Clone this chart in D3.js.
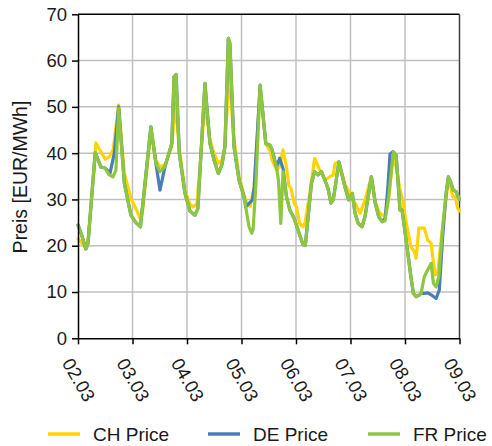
<!DOCTYPE html>
<html><head><meta charset="utf-8">
<script src="https://cdn.jsdelivr.net/npm/d3@7"></script>
<style>
body{margin:0;background:#fff;}
svg{display:block;font-family:"Liberation Sans",Arial,sans-serif;}
</style></head>
<body><svg id="c" width="492" height="446"></svg>
<script>
// hours since 02.03 00:00 , price EUR/MWh
const chPrice = [[0,21.5],[1.8,20.5],[3.5,19.5],[4.4,21],[7.9,42.2],[10.1,40.3],[12,38.7],[13.8,39.2],[15.5,40.8],[17.9,50.4],[20.4,35.6],[23.3,30.2],[25.5,28],[27.3,26],[28.6,28],[32.1,45],[34.3,38.5],[36.1,37],[38.3,37.5],[41.3,41.5],[42.8,50.8],[44.6,41],[47.1,32],[49.3,29],[50.6,28.4],[52.4,29],[55.9,51],[58.1,42.8],[59.9,40],[61.8,37.8],[63.4,38.5],[64.7,41.5],[66.5,57.2],[68.7,43],[70.9,35],[73.1,31],[74.6,28.8],[75.8,28.5],[77.6,32.7],[80.2,54],[82.7,42],[84.6,40.5],[85.5,38.5],[87.4,36.5],[88.8,37],[90.3,40.7],[91.8,37],[92.8,33.1],[93.8,32.4],[95.2,29.2],[96.2,28.4],[97.6,24.8],[99.1,24.1],[100,25],[102.1,31.3],[104.2,38.9],[106.4,36.4],[108.7,34.2],[110.6,34.8],[112.4,35.3],[113.2,37.8],[114.9,38],[117.7,33.1],[119.7,31.3],[122,29.2],[124.2,27],[126.4,29.9],[129.2,34.9],[130.9,29.5],[132.4,27.5],[133.9,26.6],[135.2,26.6],[136.8,30],[138.7,39.5],[140.1,37],[141.8,32],[143,29.9],[144.5,25],[146.6,19.8],[148.1,18.7],[148.9,17.3],[150.1,23.8],[152.5,23.8],[154,21.2],[155.5,20.5],[156.2,17.6],[157.3,13.7],[158.4,14],[159.9,21.2],[161.3,27],[162.8,33.1],[163.5,34.2],[165,30.6],[166.1,30.6],[167.2,28.1],[168,27.5]];

const dePrice = [[0,24.5],[1.5,22.5],[3.5,19.3],[4.4,20.5],[7.6,40.1],[10.1,37],[11.9,36.8],[14.1,35.7],[16,40],[17.9,50],[20.4,33.5],[23.3,26.6],[25.5,25],[27.5,24.1],[32.1,45.7],[34.3,37.8],[36.1,32],[38.3,37.1],[41.3,42.1],[42.3,56.5],[43.2,57],[44.6,40],[47.1,31.3],[49.3,27.5],[51.5,26.6],[52.8,28],[55.9,55.1],[58.1,42.1],[59.9,38.5],[61.8,35.6],[63.4,37.5],[64.7,41.4],[66.2,64.8],[66.9,63.7],[68.7,41.4],[70.9,34.2],[73.1,30.6],[73.9,28.4],[76.8,29.9],[77.6,32.7],[80.2,54.7],[82.7,42.1],[84.6,41.7],[85.5,40.7],[87.4,37],[88.8,38.9],[90.3,36.7],[91.8,30.6],[93.3,27.7],[95.2,25.9],[96.9,23.4],[99.1,20.2],[100.1,20.1],[102.8,33.5],[104.2,36],[105.7,35.3],[107.2,36],[108.7,34.2],[110.1,32.4],[111.4,29.2],[112.4,29.9],[114.9,38.1],[117.7,32.4],[119.2,29.9],[120.8,31.3],[122,27],[123.4,24.8],[125.1,24.1],[126.4,26.3],[129.2,34.9],[130.9,29.2],[132.4,26.3],[133.9,25.2],[135.3,26],[136.5,33],[137.4,39.8],[138.7,40.3],[140.1,39.6],[141.8,27.7],[142.7,27.7],[144.5,21.2],[146.6,13.3],[147.7,9.7],[148.9,9],[150.4,9.4],[151.1,9.7],[152.5,9.7],[154,9.8],[155.5,9.4],[157.7,8.6],[159.1,10.4],[160.6,22],[162.1,31.3],[163.1,34.9],[164.3,33.5],[165.3,32],[166.5,31.7],[168,30]];

const frPrice = [[0,24.5],[1.5,22.5],[3.5,19.3],[4.4,20.5],[7.6,40.1],[10.1,37],[11.9,36.8],[13.7,35.3],[15.4,34.9],[16.7,36.3],[17.9,49.7],[20.4,33.5],[23.3,26.6],[25.5,25],[27.5,24.1],[32.1,45.7],[34.3,37.8],[36.1,36],[38.3,37.1],[41.3,42.1],[42.3,56.5],[43.2,57],[44.6,40],[47.1,31.3],[49.3,27.5],[51.5,26.6],[52.8,28],[55.9,55.1],[58.1,42.1],[59.9,38.5],[61.8,35.6],[63.4,37.5],[64.7,41.4],[66.2,64.8],[66.9,63.7],[68.7,41.4],[70.9,34.2],[73.1,30.6],[75.3,24.1],[76.5,22.7],[77.1,23.5],[78.3,33],[80.2,54.7],[82.7,42.1],[84.6,41.7],[85.5,40.7],[87.4,37],[88.3,34],[89.3,24.8],[90.3,36],[91.8,30.6],[93.3,27.7],[95.2,25.9],[96.9,23.4],[99.1,20.2],[100.1,20.1],[102.8,33.5],[104.2,36],[105.7,35.3],[107.2,36],[108.7,34.2],[110.1,32.4],[111.4,29.2],[112.4,29.9],[114.9,38.1],[117.7,32.4],[119.2,29.9],[120.8,31.3],[122,27],[123.4,24.8],[125.1,24.1],[126.4,26.3],[129.2,34.9],[130.9,29.2],[132.4,26.3],[133.9,25.2],[135.2,25.4],[136.8,30.6],[138.9,40.3],[140.1,39.6],[141.8,27.7],[142.7,27.7],[144.5,21.2],[146.6,13.3],[147.7,9.7],[148.9,9],[150.4,9.4],[151.1,9.7],[152.5,13.3],[154,14.8],[155.5,16.2],[156.5,11.9],[157.7,11.1],[158.9,13.3],[160.6,24.1],[162.1,31.3],[163.1,34.9],[164.3,33.5],[165.3,32],[166.5,31.7],[168,30]];

const seriesNames = ["CH Price","DE Price","FR Price"];
const xTickHours = [0,24,48,72,96,120,144,168];
const xTickLabels = ["02.03","03.03","04.03","05.03","06.03","07.03","08.03","09.03"];
const yTicks = [0,10,20,30,40,50,60,70];
const yLabel = "Preis [EUR/MWh]";

const colors = ["#FFD400","#4A7EBB","#8DC63F"];
const svg = d3.select("#c");
const L=78, R=459.5, T=14.3, B=338.3;
const x = d3.scaleLinear().domain([0,168]).range([L,R]);
const y = d3.scaleLinear().domain([0,70]).range([B,T]);

// grid
svg.append("g").selectAll("line").data(yTicks.filter(v=>v>0&&v<70)).join("line")
  .attr("x1",L).attr("x2",R).attr("y1",d=>y(d)).attr("y2",d=>y(d))
  .attr("stroke","#c0c0c0").attr("stroke-width",1.5);
svg.append("g").selectAll("line").data(xTickHours.filter(v=>v>0&&v<168)).join("line")
  .attr("y1",T).attr("y2",B).attr("x1",d=>x(d)).attr("x2",d=>x(d))
  .attr("stroke","#c0c0c0").attr("stroke-width",1.5);
// frame top/right
svg.append("line").attr("x1",L).attr("x2",R).attr("y1",T).attr("y2",T).attr("stroke","#000").attr("stroke-width",1.5);
svg.append("line").attr("x1",R).attr("x2",R).attr("y1",T).attr("y2",B).attr("stroke","#404040").attr("stroke-width",1.5);

// lines
const line = d3.line().x(d=>x(d[0])).y(d=>y(d[1]));
[chPrice,dePrice,frPrice].forEach((s,i)=>{
  svg.append("path").attr("d",line(s)).attr("fill","none").attr("stroke",colors[i])
    .attr("stroke-width",3.2).attr("stroke-linejoin","round").attr("stroke-linecap","round");
});

// axes
const ya = svg.append("g").attr("transform",`translate(${L},0)`)
  .call(d3.axisLeft(y).tickValues(yTicks).tickSize(6).tickSizeOuter(0).tickPadding(5));
const xa = svg.append("g").attr("transform",`translate(0,${B})`)
  .call(d3.axisBottom(x).tickValues(xTickHours).tickFormat((d,i)=>xTickLabels[i]).tickSize(6).tickSizeOuter(0));
[ya,xa].forEach(g=>{
  g.selectAll("path,line").attr("stroke","#000").attr("stroke-width",1.5);
  g.selectAll("text").attr("fill","#1a1a1a").style("font-size","18.5px").style("font-family","'Liberation Sans',Arial,sans-serif");
});
xa.selectAll("text").attr("transform","rotate(60)").attr("text-anchor","start")
  .attr("x",13).attr("y",27).attr("dy",0);

// y label
svg.append("text").attr("transform","translate(27,177) rotate(-90)").attr("text-anchor","middle")
  .style("font-size","19.5px").attr("fill","#1a1a1a").text(yLabel);

// legend
const legX = [48,208,368];
seriesNames.forEach((n,i)=>{
  svg.append("line").attr("x1",legX[i]).attr("x2",legX[i]+32).attr("y1",434).attr("y2",434)
    .attr("stroke",colors[i]).attr("stroke-width",3.5);
  svg.append("text").attr("x",legX[i]+45).attr("y",441).style("font-size","19px")
    .attr("fill","#1a1a1a").text(n);
});
</script></body></html>
